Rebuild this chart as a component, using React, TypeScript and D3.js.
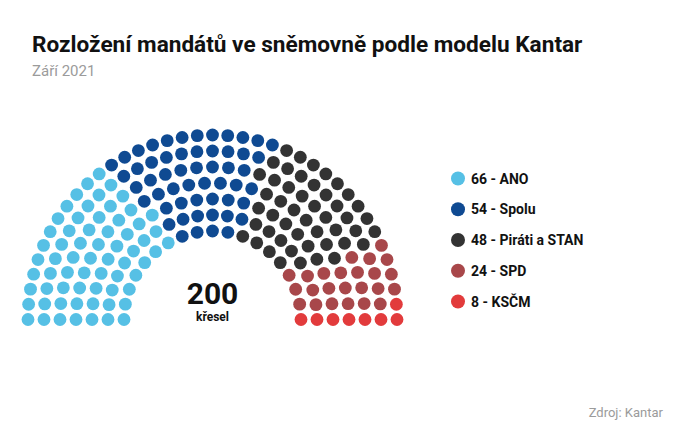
import React from "react";
import * as d3 from "d3";

const parties = ["ANO", "Spolu", "Piráti a STAN", "SPD", "KSČM"];
const partySeats = [66, 54, 48, 24, 8];
const partyColors = ["#56c0e5", "#0f4a92", "#333333", "#a8474a", "#e23b3c"];
// seats in each ring, inner -> outer
const ringSeats = [19, 23, 25, 28, 31, 35, 39];
// seats of each party in each ring (inner -> outer)
const seatsByRing = [
  [7, 4, 4, 3, 1],
  [8, 6, 5, 3, 1],
  [9, 6, 6, 3, 1],
  [9, 8, 7, 3, 1],
  [10, 8, 8, 4, 1],
  [11, 10, 9, 4, 1],
  [12, 12, 9, 4, 2],
];
const totalSeats = 200;
const title = "Rozložení mandátů ve sněmovně podle modelu Kantar";
const subtitle = "Září 2021";
const source = "Zdroj: Kantar";

const W = 682;
const H = 447;
const cx = 212.5;
const cy = 319.5;
const FONT = "Roboto, 'Noto Sans', sans-serif";

export default function App() {
  const rScale = d3
    .scaleLinear()
    .domain([0, ringSeats.length - 1])
    .range([88.5, 184.5]);

  const dots: { x: number; y: number; c: string; key: string }[] = [];
  ringSeats.forEach((n, ri) => {
    const r = rScale(ri);
    const ang = d3.scaleLinear().domain([0, n - 1]).range([Math.PI, 0]);
    const cum = d3.cumsum(seatsByRing[ri]);
    for (let k = 0; k < n; k++) {
      const p = cum.findIndex((c) => k < c);
      const a = ang(k);
      dots.push({
        x: cx + r * Math.cos(a),
        y: cy - r * Math.sin(a),
        c: partyColors[p],
        key: `${ri}-${k}`,
      });
    }
  });

  const legendY = d3
    .scalePoint<string>()
    .domain(parties)
    .range([178.5, 301.5]);

  return (
    <svg
      width={W}
      height={H}
      style={{ position: "absolute", left: 0, top: 0, background: "#fff" }}
      fontFamily={FONT}
    >
      <text x={32} y={52} fontSize={22.6} fontWeight={700} fill="#111">
        {title}
      </text>
      <text x={32} y={76} fontSize={15} fill="#9b9b9b">
        {subtitle}
      </text>
      <g>
        {dots.map((d) => (
          <circle key={d.key} cx={d.x} cy={d.y} r={6.4} fill={d.c} />
        ))}
      </g>
      <text
        x={cx}
        y={304}
        fontSize={30}
        fontWeight={700}
        textAnchor="middle"
        fill="#111"
      >
        {totalSeats}
      </text>
      <text
        x={cx}
        y={320.5}
        fontSize={12}
        fontWeight={700}
        textAnchor="middle"
        fill="#111"
      >
        křesel
      </text>
      <g>
        {parties.map((p, i) => (
          <g key={p} transform={`translate(0,${legendY(p)})`}>
            <circle cx={458} cy={0} r={7} fill={partyColors[i]} />
            <text
              x={471}
              y={5}
              fontSize={14}
              fontWeight={700}
              fill="#111"
            >
              {`${partySeats[i]} - ${p}`}
            </text>
          </g>
        ))}
      </g>
      <text
        x={663}
        y={417}
        fontSize={13}
        textAnchor="end"
        fill="#9b9b9b"
      >
        {source}
      </text>
    </svg>
  );
}
